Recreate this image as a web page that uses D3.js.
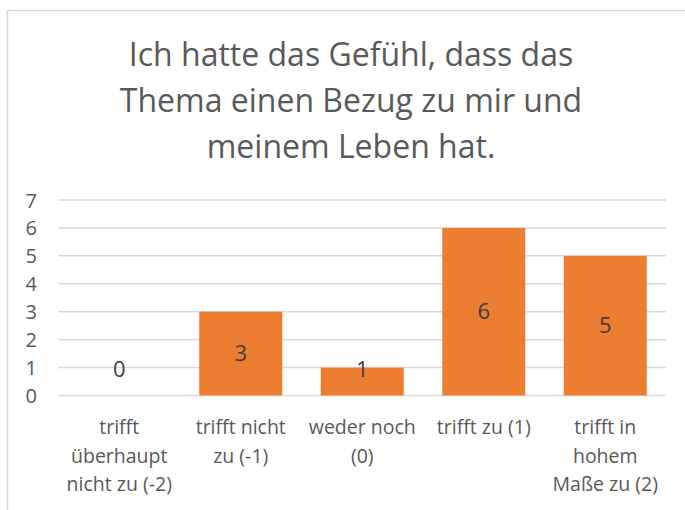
<!DOCTYPE html>
<html><head><meta charset="utf-8">
<script src="https://cdn.jsdelivr.net/npm/d3@7"></script>
<style>body{margin:0;background:#fff}svg{display:block}text{font-family:"Open Sans",sans-serif;fill:#595959}</style>
</head><body>
<script>
const titleLines = ["Ich hatte das Gefühl, dass das", "Thema einen Bezug zu mir und", "meinem Leben hat."];
const categories = ["trifft\nüberhaupt\nnicht zu (-2)", "trifft nicht\nzu (-1)", "weder noch\n(0)", "trifft zu (1)", "trifft in\nhohem\nMaße zu (2)"];
const values = [0, 3, 1, 6, 5];
const yTicks = [0, 1, 2, 3, 4, 5, 6, 7];

const W = 685, H = 510;
const svg = d3.select("body").append("svg").attr("width", W).attr("height", H);

// chart border (cropped at right and bottom)
svg.append("path").attr("d", "M7.5,520V10.5H700").attr("fill", "none").attr("stroke", "#d9d9d9").attr("stroke-width", 1.5);

const x = d3.scaleBand().domain(categories).range([58.5, 666]).paddingInner(0.317).paddingOuter(0.1585);
const y = d3.scaleLinear().domain([0, 7]).range([395.5, 200]);

// title
svg.append("g").selectAll("text").data(titleLines).join("text")
  .attr("x", 351).attr("y", (d, i) => 66 + i * 46)
  .attr("text-anchor", "middle").style("font-size", "32px").text(d => d);

// gridlines
svg.append("g").selectAll("line").data(yTicks).join("line")
  .attr("x1", 58.5).attr("x2", 666).attr("y1", d => y(d)).attr("y2", d => y(d))
  .attr("stroke", "#d9d9d9").attr("stroke-width", 1.5);

// y axis labels
const yAxis = d3.axisLeft(y).tickValues(yTicks).tickFormat(d3.format("d")).tickSize(0).tickPadding(0);
const ga = svg.append("g").attr("transform", "translate(37,0)").call(yAxis);
ga.select(".domain").remove();
ga.selectAll("text").style("font-size", "20px").style("font-family", "'Open Sans'").attr("fill", "#595959").attr("dy", "0.35em");

// bars
svg.append("g").selectAll("rect").data(values).join("rect")
  .attr("x", (d, i) => x(categories[i])).attr("width", x.bandwidth())
  .attr("y", d => y(d)).attr("height", d => y(0) - y(d))
  .attr("fill", "#ED7D31");

// data labels
svg.append("g").selectAll("text").data(values).join("text")
  .attr("x", (d, i) => x(categories[i]) + x.bandwidth() / 2)
  .attr("y", d => Math.min((y(d) + y(0)) / 2, y(0) - 26))
  .attr("dy", "0.35em").attr("text-anchor", "middle").style("font-size", "22px")
  .style("fill", "#404040").text(d => d);

// category labels
const cg = svg.append("g").selectAll("text").data(categories).join("text")
  .attr("text-anchor", "middle").style("font-size", "19.5px");
cg.each(function(d) {
  const t = d3.select(this);
  const cx = x(d) + x.bandwidth() / 2;
  d.split("\n").forEach((line, j) => {
    t.append("tspan").attr("x", cx).attr("y", 434 + j * 28.7).text(line);
  });
});
</script>
</body></html>
